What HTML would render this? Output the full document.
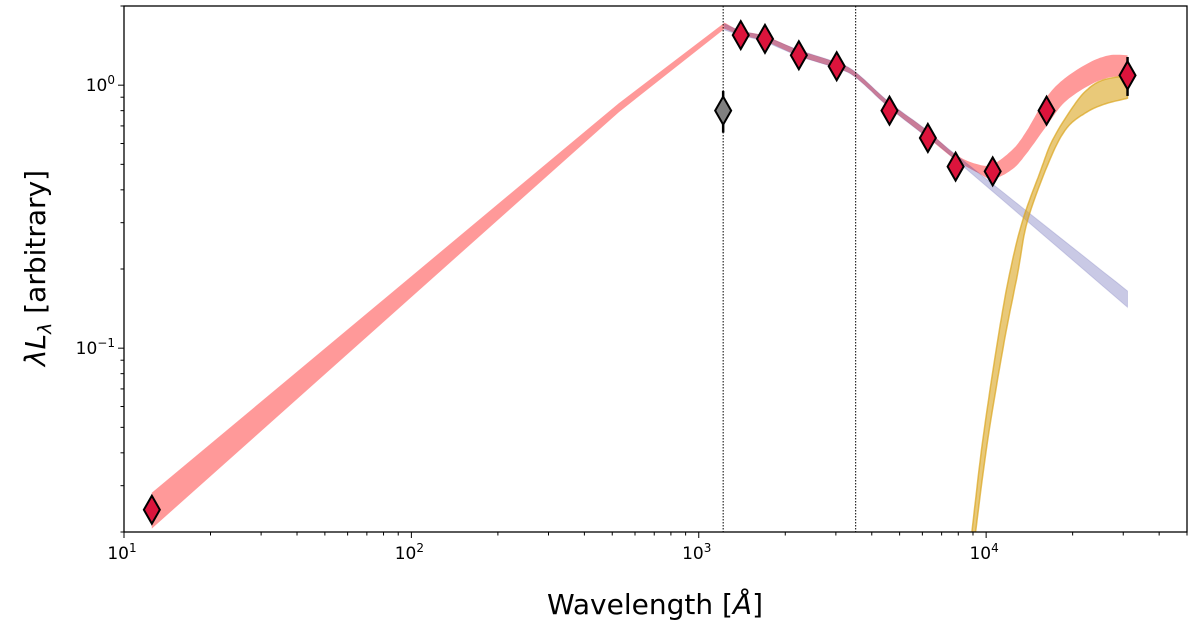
<!DOCTYPE html>
<html><head><meta charset="utf-8"><style>
html,body{margin:0;padding:0;background:#fff;}
svg{display:block;font-family:"DejaVu Sans","Liberation Sans",sans-serif;}
</style></head><body>
<svg id="chart" width="1200" height="632" viewBox="0 0 1200 632">
<defs><clipPath id="clip"><rect x="124" y="6" width="1063" height="526"/></clipPath></defs>
<g id="bands" clip-path="url(#clip)"></g>
<g id="vlines"></g>
<g id="points"></g>
<g id="axes"></g>
<text x="655" y="614" font-size="28" text-anchor="middle">Wavelength [<tspan font-style="italic">Å</tspan>]</text>
<text transform="translate(45,268) rotate(-90)" font-size="28" text-anchor="middle"><tspan font-style="italic">λL</tspan><tspan font-style="italic" font-size="19" dy="6">λ</tspan><tspan dy="-6"> [arbitrary]</tspan></text>
</svg>
<script>
// ---- data ----
const redX  = [12.5, 527, 1230, 1400, 1700, 2230, 3020, 3516, 4610, 6270, 7830, 9340, 10540, 12370, 13830, 16230, 18740, 22900, 26900, 31050];
const redHi = [0.0282, 0.854, 1.73, 1.61, 1.54, 1.36, 1.22, 1.12, 0.86, 0.67, 0.545, 0.50, 0.50, 0.57, 0.67, 0.90, 1.06, 1.22, 1.30, 1.30];
const redLo = [0.0206, 0.789, 1.64, 1.55, 1.47, 1.29, 1.16, 1.07, 0.82, 0.63, 0.52, 0.465, 0.44, 0.48, 0.55, 0.70, 0.86, 1.00, 1.07, 1.08];
const blueX  = [1230, 1400, 1700, 2230, 3020, 3516, 4610, 6270, 7830, 31050];
const blueHi = [1.71, 1.61, 1.53, 1.36, 1.22, 1.12, 0.86, 0.67, 0.545, 0.165];
const blueLo = [1.62, 1.55, 1.46, 1.29, 1.16, 1.07, 0.82, 0.63, 0.52, 0.143];
const dustUpX = [8700, 8920, 9730, 10970, 12070, 13400, 15350, 17020, 20000, 22380, 25430, 31050];
const dustUpY = [0.016, 0.02, 0.0445, 0.107, 0.192, 0.306, 0.462, 0.618, 0.824, 0.957, 1.045, 1.09];
const dustLoX = [8970, 9190, 10120, 11580, 12870, 13940, 16630, 19070, 22380, 25840, 31050];
const dustLoY = [0.016, 0.02, 0.0445, 0.107, 0.192, 0.306, 0.518, 0.686, 0.789, 0.847, 0.892];
const ptX   = [12.5, 1400, 1700, 2230, 3020, 4610, 6270, 7830, 10540, 16230, 31050];
const ptY   = [0.0243, 1.55, 1.50, 1.30, 1.18, 0.80, 0.63, 0.49, 0.47, 0.80, 1.09];
const ptErrLo = [0, 0, 0, 0, 0, 0, 0, 0, 0, 0, 0.91];
const ptErrHi = [0, 0, 0, 0, 0, 0, 0, 0, 0, 0, 1.28];
const grayX = [1216];
const grayY = [0.80];
const grayLo = [0.66];
const grayHi = [0.95];
const vlineX = [1216, 3516];
const xTickVals = [10, 100, 1000, 10000];
const xTickLabels = ["1", "2", "3", "4"];
const yTickVals = [1, 0.1];
const yTickLabels = ["0", "−1"];

// ---- scales ----
const X0=124, X1=1187, Y0=6, Y1=532;
const LX0=1, LX1=Math.log10(50000), LY0=Math.log10(0.02), LY1=Math.log10(2.0);
const sx = v => X0 + (Math.log10(v)-LX0)/(LX1-LX0)*(X1-X0);
const sy = v => Y1 - (Math.log10(v)-LY0)/(LY1-LY0)*(Y1-Y0);
const NS='http://www.w3.org/2000/svg';
function mk(tag, attrs, parent){const e=document.createElementNS(NS,tag);for(const k in attrs)e.setAttribute(k,attrs[k]);parent.appendChild(e);return e;}

function smooth(pts, from){
  const out=[];
  for(let i=0;i<pts.length-1;i++){
    const p1=pts[i], p2=pts[i+1];
    if(i<from){ out.push(p1); continue; }
    const p0=pts[Math.max(i-1,from)], p3=pts[Math.min(i+2,pts.length-1)];
    for(let k=0;k<10;k++){
      const t=k/10, t2=t*t, t3=t2*t;
      const f=(a,b,c,d)=>0.5*((2*b)+(-a+c)*t+(2*a-5*b+4*c-d)*t2+(-a+3*b-3*c+d)*t3);
      out.push([f(p0[0],p1[0],p2[0],p3[0]), f(p0[1],p1[1],p2[1],p3[1])]);
    }
  }
  out.push(pts[pts.length-1]);
  return out;
}
function polyPath(up, lo){
  const all=up.concat(lo.slice().reverse());
  return all.map((p,i)=>(i?'L':'M')+p[0].toFixed(1)+','+p[1].toFixed(1)).join('')+'Z';
}
function bandPath(xs, hi, lo, from){
  const u=smooth(xs.map((x,i)=>[sx(x),sy(hi[i])]),from);
  const l=smooth(xs.map((x,i)=>[sx(x),sy(lo[i])]),from);
  return polyPath(u,l);
}
function edgePath(ux, uy, lx, ly){
  const u=smooth(ux.map((x,i)=>[sx(x),sy(uy[i])]),0);
  const l=smooth(lx.map((x,i)=>[sx(x),sy(ly[i])]),0);
  return polyPath(u,l);
}
const bands=document.getElementById('bands');
const red=mk('path',{d:bandPath(redX,redHi,redLo,2),fill:'rgb(255,0,0)','fill-opacity':'0.4',stroke:'none'},bands);


const blue=mk('path',{d:bandPath(blueX,blueHi,blueLo,0),fill:'rgb(40,40,150)','fill-opacity':'0.25',stroke:'rgb(40,40,150)','stroke-opacity':'0.15'},bands);


const dust=mk('path',{d:edgePath(dustUpX,dustUpY,dustLoX,dustLoY),fill:'rgb(218,165,32)','fill-opacity':'0.6',stroke:'rgb(218,165,32)','stroke-opacity':'0.7','stroke-width':'1.5'},bands);



const vl=document.getElementById('vlines');
vlineX.forEach(v=>{
  const l=mk('line',{x1:sx(v),x2:sx(v),y1:Y0,y2:Y1,stroke:'#000','stroke-width':'1','stroke-dasharray':'1.5,1.5'},vl);
  
  
});

const pts=document.getElementById('points');
function diamond(x,y,fill){
  const cx=sx(x), cy=sy(y);
  return mk('polygon',{points:`${cx},${cy-14} ${cx+8},${cy} ${cx},${cy+14} ${cx-8},${cy}`,fill:fill,stroke:'#000','stroke-width':'2'},pts);
}
grayX.forEach((x,i)=>{
  const e=mk('line',{x1:sx(x),x2:sx(x),y1:sy(grayHi[i]),y2:sy(grayLo[i]),stroke:'#000','stroke-width':'2.5'},pts);
  
  
  const d=diamond(x,grayY[i],'#808080');
  
  
});
ptX.forEach((x,i)=>{
  if(ptErrHi[i]>0){
    const e=mk('line',{x1:sx(x),x2:sx(x),y1:sy(ptErrHi[i]),y2:sy(ptErrLo[i]),stroke:'#000','stroke-width':'2.5'},pts);
    
    
  }
  const d=diamond(x,ptY[i],'#dc143c');
  
  
});

const ax=document.getElementById('axes');
const frame=mk('rect',{x:X0,y:Y0,width:X1-X0,height:Y1-Y0,fill:'none',stroke:'#000','stroke-width':'1.3'},ax);


for(let dec=1;dec<=4;dec++){
  for(let m=1;m<=9;m++){
    const v=m*Math.pow(10,dec); if(v>50000) break;
    const x=sx(v);
    const t=mk('line',{x1:x,x2:x,y1:Y1,y2:Y1+(m===1?6:3.5),stroke:'#000','stroke-width':'1'},ax);
    
    
  }
}
xTickVals.forEach((v,i)=>{
  const t=mk('text',{x:sx(v)-2,y:Y1+27,'font-size':'17','text-anchor':'middle'},ax);
  
  
  t.innerHTML='10<tspan font-size="12" dy="-7">'+xTickLabels[i]+'</tspan>';
});
for(let dec=-2;dec<=0;dec++){
  for(let m=1;m<=9;m++){
    const v=m*Math.pow(10,dec); if(v<0.02||v>2.0) continue;
    const y=sy(v);
    const t=mk('line',{x1:X0,x2:X0-(m===1?6:3.5),y1:y,y2:y,stroke:'#000','stroke-width':'1'},ax);
    
    
  }
}
yTickVals.forEach((v,i)=>{
  const t=mk('text',{x:X0-9,y:sy(v)+6,'font-size':'17','text-anchor':'end'},ax);
  
  
  t.innerHTML='10<tspan font-size="12" dy="-7">'+yTickLabels[i]+'</tspan>';
});
</script>
</body></html>
